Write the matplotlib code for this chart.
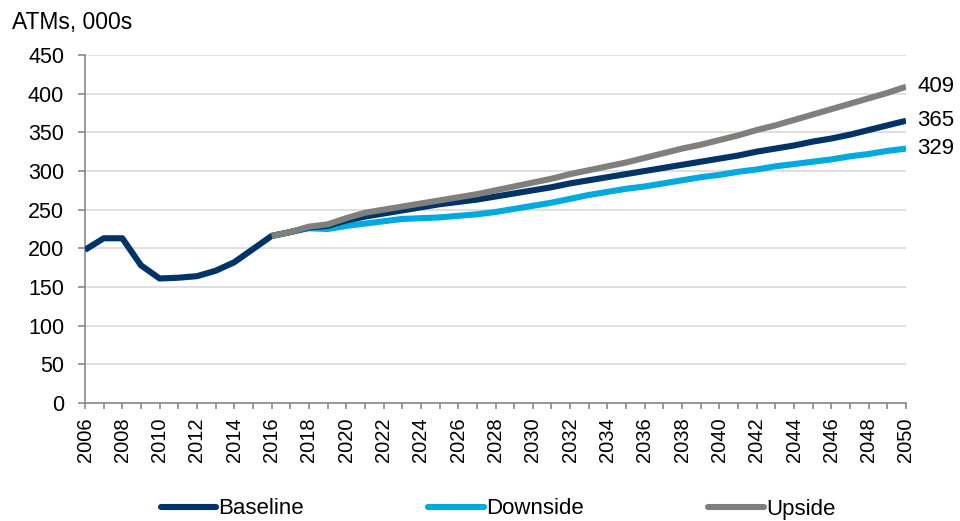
import matplotlib.pyplot as plt
import matplotlib.ticker as ticker

plt.rcParams['font.family'] = ['Liberation Sans', 'DejaVu Sans']

# ATM counts in thousands
hist_years = list(range(2006, 2017))
hist_atms = [198, 213, 213, 178, 161, 162, 164, 171, 182, 199, 216]

fc_years = list(range(2016, 2051))
baseline = [216, 221, 227, 229, 236, 241, 245, 249, 253, 257, 260, 263, 267, 271,
            275, 279, 284, 288, 292, 296, 300, 304, 308, 312, 316, 320, 325, 329,
            333, 338, 342, 347, 353, 359, 365]
downside = [216, 221, 226, 225, 229, 232, 235, 238, 239, 240, 242, 244, 247, 251,
            255, 259, 264, 269, 273, 277, 280, 284, 288, 292, 295, 299, 302, 306,
            309, 312, 315, 319, 322, 326, 329]
upside = [216, 221, 228, 231, 239, 246, 250, 254, 258, 262, 266, 270, 275, 280,
          285, 290, 296, 301, 306, 311, 317, 323, 329, 334, 340, 346, 353, 359,
          366, 373, 380, 387, 394, 401, 409]

c_base = '#003366'
c_down = '#00aade'
c_up = '#7f7f7b'

fig = plt.figure(figsize=(9.6, 5.21), dpi=100)
ax = fig.add_axes([85 / 960, 1 - 403 / 521, (906 - 85) / 960, (403 - 55) / 521])

lw = 4.4
ax.plot(hist_years + fc_years[1:], hist_atms + baseline[1:], color=c_base, lw=lw,
        solid_capstyle='butt', solid_joinstyle='round', label='Baseline', zorder=3)
ax.plot(fc_years, downside, color=c_down, lw=lw, solid_capstyle='butt',
        solid_joinstyle='round', label='Downside', zorder=2)
ax.plot(fc_years, upside, color=c_up, lw=lw, solid_capstyle='butt',
        solid_joinstyle='round', label='Upside', zorder=4)

# end-of-series values
for series in [upside, baseline, downside]:
    ax.annotate(f'{series[-1]}', xy=(fc_years[-1], series[-1]), xytext=(8, 0),
                textcoords='offset points', va='center', ha='left', fontsize=16,
                annotation_clip=False)

ax.set_xlim(2006, 2050)
ax.set_ylim(0, 450)
ax.yaxis.set_major_locator(ticker.MultipleLocator(50))
ax.xaxis.set_major_locator(ticker.MultipleLocator(2))
ax.xaxis.set_minor_locator(ticker.MultipleLocator(1))

ax.grid(axis='y', color='#d9d9d9', lw=1.2, zorder=0)
ax.set_axisbelow(True)
for s in ['top', 'right']:
    ax.spines[s].set_visible(False)
for s in ['left', 'bottom']:
    ax.spines[s].set_color('#898989')
    ax.spines[s].set_linewidth(1.2)

ax.tick_params(axis='y', length=5, width=1.2, color='#898989', pad=10, labelsize=15.5)
ax.tick_params(axis='x', which='both', length=4.5, width=1.2, color='#898989',
               pad=6, labelsize=14.5, labelrotation=90)

fig.text(12 / 960, 1 - 22 / 521, 'ATMs, 000s', fontsize=16.5, va='center', ha='left')

leg = fig.legend(loc='center', bbox_to_anchor=(498 / 960, 1 - 509 / 521), ncol=3,
                 frameon=False, fontsize=16, handlelength=2.5, handletextpad=0.1,
                 columnspacing=5.6, borderpad=0)
for h in leg.get_lines():
    h.set_solid_capstyle('round')

fig.savefig('out.png', dpi=100)
